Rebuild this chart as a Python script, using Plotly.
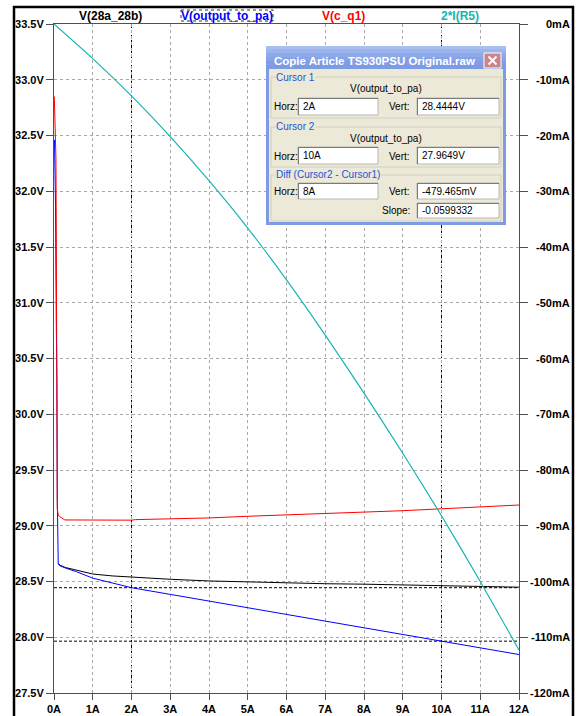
import plotly.graph_objects as go

# ---- DC sweep of the load current (A) ----
# V(28a_28b)
load_28a = [0.11, 0.16, 0.3, 0.58, 1, 1.5, 2, 3, 4, 5, 6, 7, 8, 9, 10, 11, 12]
v_28a = [28.66, 28.645, 28.625, 28.603, 28.567, 28.55, 28.538, 28.52, 28.505,
         28.495, 28.487, 28.48, 28.476, 28.47, 28.462, 28.455, 28.449]

# V(output_to_pa)
load_out = [0.012, 0.02, 0.04, 0.06, 0.075, 0.085, 0.09, 0.11, 0.16, 0.3, 0.58,
            1, 1.5, 2, 3, 4, 5, 6, 7, 8, 9, 10, 11, 12]
v_out = [32.46, 32.3, 31.86, 30.8, 30.3, 29.25, 28.8, 28.655, 28.64, 28.62,
         28.588, 28.53, 28.487, 28.4444, 28.3845, 28.3246, 28.2647, 28.2047,
         28.1448, 28.0849, 28.0249, 27.9649, 27.905, 27.845]

# V(c_q1)
load_cq1 = [0.008, 0.012, 0.02, 0.05, 0.065, 0.07, 0.085, 0.11, 0.155, 0.28, 1,
            2, 2.1, 3, 4, 5, 6, 7, 8, 9, 10, 11, 12]
v_cq1 = [32.85, 32.78, 32.55, 32.3, 31.0, 29.4, 29.15, 29.096, 29.08, 29.052,
         29.05, 29.05, 29.055, 29.06, 29.07, 29.085, 29.097, 29.11, 29.12,
         29.135, 29.152, 29.17, 29.186]

# 2*I(R5) in mA
load_r5 = [0, 1, 2, 3, 4, 5, 6, 7, 8, 9, 10, 11, 12]
i_r5_ma = [0, -6.2, -12.9, -20.2, -28.1, -36.6, -45.9, -55.8, -66.2, -77.0,
           -88.2, -100.0, -112.3]

# Cursor positions on V(output_to_pa)
cursor1 = (2, 28.4444)
cursor2 = (10, 27.9649)

# Axis ticks
x_ticks = list(range(0, 13))
x_labels = [f"{v}A" for v in x_ticks]
v_ticks = [27.5 + 0.5 * k for k in range(13)]
v_labels = [f"{v:.1f}V" for v in v_ticks]
ma_ticks = [-10 * k for k in range(13)]
ma_labels = [f"{v}mA" for v in ma_ticks]

trace_names = ["V(28a_28b)", "V(output_to_pa)", "V(c_q1)", "2*I(R5)"]
trace_colors = ["#000000", "#0000ff", "#ff0000", "#14b4b4"]

W, H = 577, 716
L, R, T, B = 54, 519, 24, 693


def fx(p):
    return (p - L) / (R - L)


def fy(p):
    return (B - p) / (B - T)


fig = go.Figure()
fig.add_trace(go.Scatter(x=load_28a, y=v_28a, mode="lines", name=trace_names[0],
                         line=dict(color=trace_colors[0], width=1)))
fig.add_trace(go.Scatter(x=load_out, y=v_out, mode="lines", name=trace_names[1],
                         line=dict(color=trace_colors[1], width=1)))
fig.add_trace(go.Scatter(x=load_cq1, y=v_cq1, mode="lines", name=trace_names[2],
                         line=dict(color=trace_colors[2], width=1)))
fig.add_trace(go.Scatter(x=load_r5, y=i_r5_ma, mode="lines", name=trace_names[3],
                         yaxis="y2", line=dict(color=trace_colors[3], width=1.2,
                                                shape="spline", smoothing=0.6)))

tick_font = dict(family="Liberation Sans, Arial, sans-serif", size=11,
                 color="#000000", weight="bold")
axis_col = "#505050"
grid_col = "#a8a8a8"

fig.update_layout(
    width=W, height=H,
    margin=dict(l=L, r=W - R, t=T, b=H - B, pad=0, autoexpand=False),
    paper_bgcolor="#ffffff", plot_bgcolor="#ffffff",
    showlegend=False,
    xaxis=dict(range=[0, 12], tickvals=x_ticks, ticktext=x_labels, automargin=False,
               showgrid=True, gridcolor=grid_col, griddash="3px,3px", gridwidth=1,
               zeroline=False, showline=True, linecolor=axis_col, linewidth=1,
               mirror=True, ticks="outside", ticklen=6, tickcolor=axis_col,
               tickfont=tick_font, fixedrange=True),
    yaxis=dict(range=[27.5, 33.5], tickvals=v_ticks, ticktext=v_labels, automargin=False,
               showgrid=True, gridcolor=grid_col, griddash="3px,3px", gridwidth=1,
               zeroline=False, showline=True, linecolor=axis_col, linewidth=1,
               mirror=True, ticks="outside", ticklen=7, tickcolor=axis_col,
               tickfont=tick_font, fixedrange=True),
    yaxis2=dict(range=[-120, 0], overlaying="y", side="right", automargin=False,
                tickvals=ma_ticks, showticklabels=False, showgrid=False,
                zeroline=False, showline=False, ticks="outside", ticklen=8,
                tickcolor=axis_col, fixedrange=True),
)

shapes = []
annos = []

# outer window frame
shapes.append(dict(type="line", xref="paper", yref="paper", x0=fx(14), x1=fx(14),
                   y0=fy(6), y1=fy(730), line=dict(color="#000", width=2.5), layer="below"))
shapes.append(dict(type="line", xref="paper", yref="paper", x0=fx(13), x1=fx(574),
                   y0=fy(7), y1=fy(7), line=dict(color="#000", width=2.5), layer="below"))
shapes.append(dict(type="line", xref="paper", yref="paper", x0=fx(573), x1=fx(573),
                   y0=fy(6), y1=fy(730), line=dict(color="#000", width=2.5), layer="below"))

# right axis labels, right aligned
for v, lab in zip(ma_ticks, ma_labels):
    annos.append(dict(xref="paper", yref="y2", x=fx(572), y=v, text=lab,
                      showarrow=False, xanchor="right", yanchor="middle",
                      font=tick_font))

# trace headers
header_x = [110, 227, 343, 460]
for name, col, hx in zip(trace_names, trace_colors, header_x):
    annos.append(dict(xref="paper", yref="paper", x=fx(hx), y=fy(15.5), text=name,
                      showarrow=False, xanchor="center", yanchor="middle",
                      font=dict(family="Liberation Sans, Arial", size=12,
                                color=col, weight="bold")))
shapes.append(dict(type="rect", xref="paper", yref="paper", x0=fx(181), x1=fx(273),
                   y0=fy(10), y1=fy(21), line=dict(color="#333", width=1, dash="dot")))

# cursor lines
for cx, cv in (cursor1, cursor2):
    shapes.append(dict(type="line", xref="x", yref="paper", x0=cx, x1=cx, y0=0, y1=1,
                       line=dict(color="#000", width=1, dash="3px,2px"), layer="between"))
    shapes.append(dict(type="line", xref="paper", yref="y", x0=0, x1=1, y0=cv, y1=cv,
                       line=dict(color="#000", width=1, dash="3px,2px"), layer="between"))


def rect(x0, y0, x1, y1, fill=None, line=None, lw=1):
    shapes.append(dict(type="rect", xref="paper", yref="paper",
                       x0=fx(x0), x1=fx(x1), y0=fy(y1), y1=fy(y0),
                       fillcolor=fill if fill else "rgba(0,0,0,0)",
                       line=dict(color=line if line else "rgba(0,0,0,0)", width=lw if line else 0),
                       layer="above"))


def hline(x0, x1, y, col, lw=1):
    shapes.append(dict(type="line", xref="paper", yref="paper", x0=fx(x0), x1=fx(x1),
                       y0=fy(y), y1=fy(y), line=dict(color=col, width=lw), layer="above"))


def vline(x, y0, y1, col, lw=1):
    shapes.append(dict(type="line", xref="paper", yref="paper", x0=fx(x), x1=fx(x),
                       y0=fy(y0), y1=fy(y1), line=dict(color=col, width=lw), layer="above"))


def text(x, y, s, anchor="left", col="#000", size=10, bold=False, bg=None):
    d = dict(xref="paper", yref="paper", x=fx(x), y=fy(y), text=s, showarrow=False,
             xanchor=anchor, yanchor="middle",
             font=dict(family="Liberation Sans, Arial", size=size, color=col,
                       weight="bold" if bold else "normal"))
    if bg:
        d["bgcolor"] = bg
        d["borderpad"] = 0
    annos.append(d)


# ---- cursor readout window ----
beige = "#ece9d8"
frame_blue = "#7f9be4"
rect(266, 46, 506, 225, fill=frame_blue)
# title bar shading
bands = ["#a9bff2", "#9bb4ee", "#8eaaea", "#86a3e7", "#809de5", "#7d9be4"]
for k, c in enumerate(bands):
    rect(266, 46 + k * 3.8, 506, 46 + (k + 1) * 3.8, fill=c)
rect(269, 69, 503, 222, fill=beige)
text(272, 61, "Copie Article TS930PSU Original.raw", col="#ffffff", size=11.5, bold=True)
# close button
rect(484, 53, 501, 68, fill="#c8868c", line="#ffffff", lw=1)
shapes.append(dict(type="line", xref="paper", yref="paper", x0=fx(488.5), x1=fx(496.5),
                   y0=fy(56.5), y1=fy(64.5), line=dict(color="#fff", width=2), layer="above"))
shapes.append(dict(type="line", xref="paper", yref="paper", x0=fx(488.5), x1=fx(496.5),
                   y0=fy(64.5), y1=fy(56.5), line=dict(color="#fff", width=2), layer="above"))

group_col = "#d0d0bf"
group_blue = "#1c54d6"


def entry(x0, y0, x1, y1, s):
    rect(x0, y0, x1, y1, fill="#ffffff", line="#b8b8b0", lw=1)
    hline(x0, x1, y0 + 0.5, "#7a7a7a", 1)
    vline(x0 + 0.5, y0, y1, "#7a7a7a", 1)
    text(x0 + 3, (y0 + y1) / 2, s)


groups = [
    (77, 118, "Cursor 1"),
    (127, 167, "Cursor 2"),
    (175, 221, "Diff (Cursor2 - Cursor1)"),
]
for gy0, gy1, lab in groups:
    rect(271, gy0, 501, gy1, line=group_col, lw=1)
    text(275, gy0, lab, col=group_blue, bg=beige)

diff_v_mv = "-479.465mV"
slope_txt = "-0.0599332"

text(386, 89, trace_names[1], anchor="center")
text(272, 107, "Horz:")
text(412, 107, "Vert:", anchor="right")
entry(298, 98, 378, 115, f"{cursor1[0]}A")
entry(417, 98, 499, 115, f"{cursor1[1]:.4f}V")

text(386, 138, trace_names[1], anchor="center")
text(272, 156, "Horz:")
text(412, 156, "Vert:", anchor="right")
entry(298, 147, 378, 164, f"{cursor2[0]}A")
entry(417, 147, 499, 164, f"{cursor2[1]:.4f}V")

text(272, 191, "Horz:")
text(412, 191, "Vert:", anchor="right")
entry(298, 183, 378, 199, f"{cursor2[0] - cursor1[0]}A")
entry(417, 183, 499, 199, diff_v_mv)
text(412, 210.5, "Slope:", anchor="right")
entry(417, 203, 499, 218, slope_txt)

fig.update_layout(shapes=shapes, annotations=annos)
fig.write_html("out.html")
